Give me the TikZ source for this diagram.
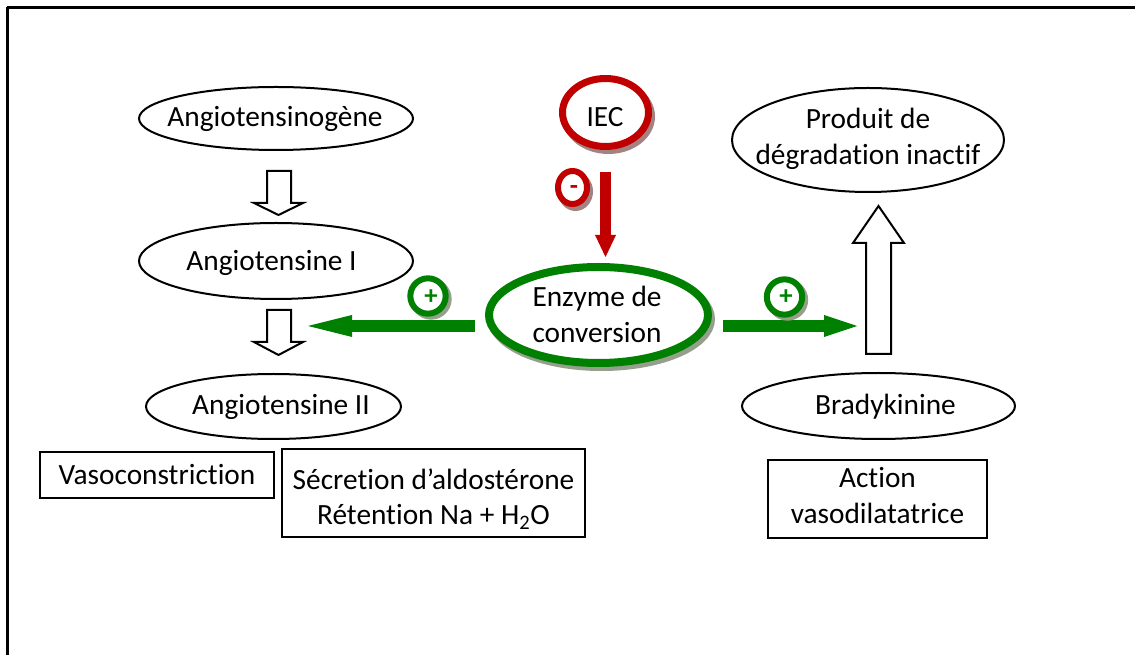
\documentclass[tikz,border=0pt]{standalone}
\usepackage{fontspec}
\setmainfont{Carlito}[Ligatures=NoCommon]
\usetikzlibrary{shapes.geometric,arrows.meta,calc}
\definecolor{accgreen}{RGB}{0,128,0}
\definecolor{accred}{RGB}{192,0,0}
\definecolor{shadegreen}{RGB}{150,158,140}
\definecolor{shadered}{RGB}{165,130,130}

\begin{document}
\begin{tikzpicture}[x=0.75pt,y=-0.75pt,
  every node/.style={inner sep=0pt,outer sep=0pt},
  lbl/.style={font=\fontsize{22}{26.5}\selectfont,align=center},
  one/.style={lbl,text height=1.22em,text depth=0em},
  oval/.style={ellipse,draw=black,line width=1.5pt},
  ring/.style={ellipse,fill=white},
  gring/.style={ring,draw=accgreen},
  rring/.style={ring,draw=accred},
  gshade/.style={ellipse,draw=shadegreen},
  rshade/.style={ellipse,draw=shadered},
  box/.style={rectangle,draw=black,line width=1.5pt},
  hollow/.style={draw=black,line width=1.5pt,fill=white,line join=miter},
  greenarr/.style={draw=accgreen,line width=9pt},
  redarr/.style={draw=accred,line width=8.25pt,
    -{Triangle[length=16.5pt,width=15.75pt,line width=0pt]}},
  sign/.style={font=\fontsize{20}{20}\selectfont\bfseries}
]
\useasboundingbox (0,0) rectangle (1135,655);

% frame edges
\draw[line width=1.9pt] (7,7.5) -- (1135,7.5);
\draw[line width=1.9pt] (7.5,7.5) -- (7.5,655);

% centres of the coloured rings
\coordinate (cIec) at (605.5,112.5);
\coordinate (cMin) at (572.5,187.5);
\coordinate (cEnz) at (598.5,315);
\coordinate (cPl) at (428,296);
\coordinate (cPr) at (784.5,297);

% left chain
\node[oval,minimum width=205.5pt,minimum height=47.25pt] (ago) at (276,118.5) {};
\node[one] (agoT) at (275,118) {Angiotensinogène};
\node[oval,minimum width=205.5pt,minimum height=57pt] (an1) at (276,261) {};
\node[one] (an1T) at (271.5,262) {Angiotensine I};
\node[oval,minimum width=191.25pt,minimum height=48.75pt] (an2) at (273.5,406.5) {};
\node[one] (an2T) at (281,406) {Angiotensine II};

\draw[hollow] (267,171) -- (291,171) -- (291,203) -- (303,203) -- (278.5,215)
  -- (254,203) -- (267,203) -- cycle;
\draw[hollow] (267,310) -- (291,310) -- (291,342) -- (303,342) -- (278.5,355)
  -- (254,342) -- (267,342) -- cycle;

\node[box,minimum width=175.5pt,minimum height=34.5pt] (vaso) at (157,475) {};
\node[one] (vasoT) at (157,476) {Vasoconstriction};
\node[box,minimum width=227.25pt,minimum height=66pt] (secr) at (433.5,493) {};
\node[lbl] (secrT) at (433.5,499)
  {Sécretion d’aldostérone\\Rétention Na + H\textsubscript{2}O};

% right chain
\node[oval,minimum width=204pt,minimum height=78pt] (prod) at (868,140) {};
\node[lbl] (prodT) at (868,139) {Produit de\\dégradation inactif};
\node[oval,minimum width=204.75pt,minimum height=49.5pt] (brad) at (878.5,406) {};
\node[one] (bradT) at (885.5,406) {Bradykinine};
\draw[hollow] (866,354) -- (891,354) -- (891,243) -- (904,243) -- (878.5,206)
  -- (853,243) -- (866,243) -- cycle;
\node[box,minimum width=164.25pt,minimum height=58.5pt] (act) at (877.5,499) {};
\node[lbl] (actT) at (877.5,495.5) {Action\\vasodilatatrice};

% inhibitor
\node[rshade,line width=5.25pt,minimum width=64.5pt,minimum height=51pt] (iecS) at ($(cIec)+(3,4)$) {};
\node[rring,line width=5.25pt,minimum width=64.5pt,minimum height=51pt] (iec) at (cIec) {};
\node[one] (iecT) at (605,118) {IEC};
\node[rshade,line width=4.5pt,minimum width=21.75pt,minimum height=24.75pt] (minS) at ($(cMin)+(3,4)$) {};
\node[rring,line width=4.5pt,minimum width=21.75pt,minimum height=24.75pt] (minus) at (cMin) {};
\node[sign,text=accred] (minT) at (574,190) {-};

% converting enzyme
\node[gshade,line width=6pt,minimum width=164.25pt,minimum height=72pt] (enzS) at ($(cEnz)+(3,4)$) {};
\node[gring,line width=6pt,minimum width=164.25pt,minimum height=72pt] (enz) at (cEnz) {};
\node[lbl] (enzT) at (597,314.5) {Enzyme de\\conversion};

\draw[redarr,shorten <=19pt,shorten >=7.5pt] (iec.south) -- (iec.south |- enz.north);

% activation arrows
\coordinate (tipL) at (308,326);
\coordinate (tipR) at (857,326);
\draw[greenarr,-{Triangle[length=33pt,width=16.5pt,line width=0pt]}]
  ([xshift=-10.5pt,yshift=-8.25pt]enz.west) -- (tipL);
\draw[greenarr,-{Triangle[length=24.75pt,width=16.5pt,line width=0pt]}]
  ([xshift=11.25pt,yshift=-8.25pt]enz.east) -- (tipR);

\node[gshade,line width=4.5pt,minimum width=26.5pt,minimum height=26.5pt] (plSL) at ($(cPl)+(3,3)$) {};
\node[gring,line width=4.5pt,minimum width=26.5pt,minimum height=26.5pt] (plusL) at (cPl) {};
\node[sign,text=accgreen] (plTL) at (431,297) {+};
\node[gshade,line width=4.5pt,minimum width=26.5pt,minimum height=26.5pt] (plSR) at ($(cPr)+(3,3)$) {};
\node[gring,line width=4.5pt,minimum width=26.5pt,minimum height=26.5pt] (plusR) at (cPr) {};
\node[sign,text=accgreen] (plTR) at (786,297) {+};
\end{tikzpicture}
\end{document}
